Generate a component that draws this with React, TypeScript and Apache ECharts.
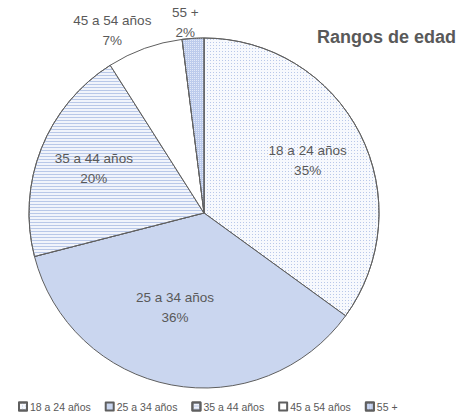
import React, { useEffect, useRef } from "react";
import * as echarts from "echarts";

const categories = ["18 a 24 años", "25 a 34 años", "35 a 44 años", "45 a 54 años", "55 +"];
const values = [35, 36, 20, 7, 2];
const sliceColors = ["#f7f9fd", "#cad6ef", "#f1f4fb", "#ffffff", "#bccbec"];
const labelShifts = [
  [23, -11],
  [-12, 6],
  [-26, -11],
  [-61, -97],
  [-13, -100],
];

export default function App() {
  const ref = useRef<HTMLDivElement>(null);
  useEffect(() => {
    const chart = echarts.init(ref.current!, null, { renderer: "svg" });
    const decals: any[] = [
      { symbol: "rect", symbolSize: 1, dashArrayX: [1, 2], dashArrayY: [1, 2], color: "#b9c8e9", backgroundColor: "#f7f9fd" },
      null,
      { symbol: "rect", symbolSize: 1, dashArrayX: [1, 0], dashArrayY: [1, 2], color: "#b9c8e8", backgroundColor: "#f1f4fb" },
      null,
      { symbol: "rect", symbolSize: 1, dashArrayX: [1, 1], dashArrayY: [1, 1], color: "#e2e9f8", backgroundColor: "#9fb6e6" },
    ];
    chart.setOption({
      animation: false,
      backgroundColor: "#ffffff",
      title: {
        text: "Rangos de edad",
        left: 312,
        top: 23,
        textStyle: { fontFamily: "Liberation Sans", fontSize: 18, fontWeight: "bold", color: "#595959" },
      },
      legend: {
        bottom: 2,
        left: 13,
        itemWidth: 8,
        itemHeight: 8,
        itemGap: 14,
        icon: "rect",
        textStyle: { fontFamily: "Liberation Sans", fontSize: 10.5, color: "#595959", padding: [0, 0, 0, -2] },
        data: categories,
      },
      series: [
        {
          type: "pie",
          center: [204, 213],
          radius: 175,
          startAngle: 90,
          clockwise: true,
          data: categories.map((name, i) => ({
            name,
            value: values[i],
            itemStyle: decals[i] ? { color: sliceColors[i], decal: decals[i] } : { color: sliceColors[i] },
          })),
          itemStyle: { borderColor: "#5f5f5f", borderWidth: 1 },
          label: {
            show: true,
            position: "inside",
            formatter: "{b}\n{c}%",
            fontFamily: "Liberation Sans",
            fontSize: 13.5,
            lineHeight: 20,
            color: "#595959",
            align: "center",
          },
          labelLine: { show: false },
          emphasis: { disabled: true },
          labelLayout: (p: any) => ({ dx: labelShifts[p.dataIndex][0], dy: labelShifts[p.dataIndex][1] }),
        },
      ],
    });
    return () => chart.dispose();
  }, []);
  return <div ref={ref} style={{ position: "fixed", left: 0, top: 0, width: 459, height: 419 }} />;
}
